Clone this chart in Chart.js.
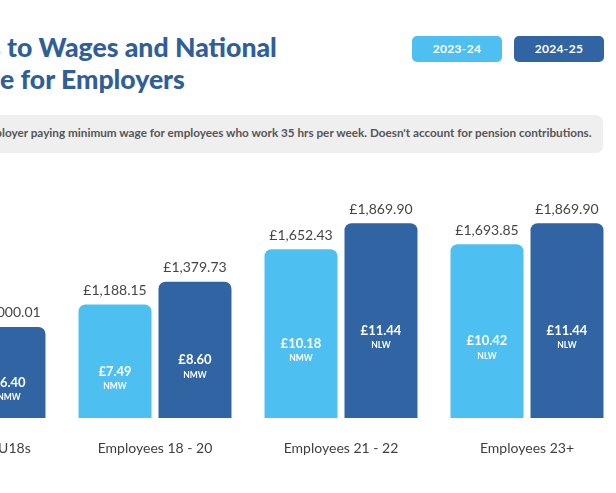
<!DOCTYPE html>
<html>
<head>
<meta charset="utf-8">
<script src="https://cdn.jsdelivr.net/npm/chart.js@4.4.1/dist/chart.umd.min.js"></script>
<style>
  html, body { margin: 0; padding: 0; background: #ffffff; }
  body { width: 616px; height: 493px; overflow: hidden; position: relative; font-family: Lato, "Open Sans", sans-serif; }
  .line { position: absolute; white-space: nowrap; color: #2f5e98; font-weight: 900; }
  #sub { position: absolute; left: -20px; top: 115px; width: 623px; height: 38px; background: #efefef; border-radius: 7px; }
  #subtxt { position: absolute; white-space: nowrap; color: #555555; font-weight: 700; top: 125px; }
  .leg { position: absolute; top: 36px; width: 90px; height: 26px; border-radius: 5px; color: #ffffff; font-weight: 700; font-size: 12px; text-align: center; line-height: 26px; letter-spacing: 0.3px; }
  #wrap { position: absolute; left: -124px; top: 160px; width: 744px; height: 310px; }
</style>
</head>
<body>
<div class="line" id="t1"><span class="pre">Changes </span><span class="vis">to Wages and National</span></div>
<div class="line" id="t2"><span class="pre">Insuranc</span><span class="vis">e for Employers</span></div>
<div class="leg" style="left:412px;background:#4dc0f1;">2023-24</div>
<div class="leg" style="left:514px;background:#3164a2;">2024-25</div>
<div id="sub"></div>
<div id="subtxt"><span class="pre">Cost to emp</span><span class="vis">loyer paying minimum wage for employees who work 35 hrs per week. Doesn't account for pension contributions.</span></div>
<div id="wrap"><canvas id="c"></canvas></div>
<script>
// ---- data ----
const categories = ['Apprentices & U18s', 'Employees 18 - 20', 'Employees 21 - 22', 'Employees 23+'];
const seriesNames = ['2023-24', '2024-25'];
const cost2324 = [806.71, 1188.15, 1652.43, 1693.85];
const cost2425 = [1000.01, 1379.73, 1869.90, 1869.90];
const rate2324 = [5.28, 7.49, 10.18, 10.42];
const rate2425 = [6.40, 8.60, 11.44, 11.44];
const type2324 = ['NMW', 'NMW', 'NMW', 'NLW'];
const type2425 = ['NMW', 'NMW', 'NLW', 'NLW'];

// ---- text fitting for clipped header lines ----
function fit(id, size, targetLeft, targetWidth) {
  const el = document.getElementById(id);
  el.style.fontSize = size + 'px';
  const vis = el.querySelector('.vis');
  const pre = el.querySelector('.pre');
  const w = vis.getBoundingClientRect().width;
  const s = size * targetWidth / w;
  el.style.fontSize = s + 'px';
  el.style.left = (targetLeft - pre.getBoundingClientRect().width) + 'px';
}
function layoutText() {
  fit('t1', 27, 7, 270);
  fit('t2', 27, 0, 185);
  document.getElementById('t1').style.top = '31px';
  document.getElementById('t2').style.top = '63px';
  fit('subtxt', 11, 2, 590);
}
layoutText();
if (document.fonts && document.fonts.ready) document.fonts.ready.then(layoutText);

const fmtMoney = v => '£' + v.toLocaleString('en-GB', { minimumFractionDigits: 2, maximumFractionDigits: 2 });

const labelPlugin = {
  id: 'barLabels',
  afterDatasetsDraw(chart) {
    const ctx = chart.ctx;
    const rates = [rate2324, rate2425];
    const types = [type2324, type2425];
    chart.data.datasets.forEach((ds, di) => {
      const meta = chart.getDatasetMeta(di);
      meta.data.forEach((bar, i) => {
        const x = bar.x, top = bar.y, base = bar.base;
        const mid = (top + base) / 2;
        ctx.save();
        ctx.textAlign = 'center';
        ctx.textBaseline = 'middle';
        ctx.fillStyle = '#454545';
        ctx.font = '14px Lato, "Open Sans", sans-serif';
        ctx.fillText(fmtMoney(ds.data[i]), x, top - 14);
        ctx.fillStyle = '#ffffff';
        ctx.font = 'bold 13px Lato, "Open Sans", sans-serif';
        ctx.fillText('£' + rates[di][i].toFixed(2), x, mid - 4);
        ctx.font = 'bold 8.5px Lato, "Open Sans", sans-serif';
        ctx.fillText(types[di][i], x, mid + 11);
        ctx.restore();
      });
    });
  }
};

new Chart(document.getElementById('c'), {
  type: 'bar',
  data: {
    labels: categories,
    datasets: [
      { label: seriesNames[0], data: cost2324, backgroundColor: '#4dc0f1', borderRadius: 7, borderSkipped: false, categoryPercentage: 0.86, barPercentage: 0.9125 },
      { label: seriesNames[1], data: cost2425, backgroundColor: '#3164a2', borderRadius: 7, borderSkipped: false, categoryPercentage: 0.86, barPercentage: 0.9125 }
    ]
  },
  options: {
    responsive: true,
    maintainAspectRatio: false,
    animation: false,
    layout: { padding: { top: 47.7, left: 0, right: 0, bottom: 0 } },
    plugins: { legend: { display: false }, tooltip: { enabled: false } },
    scales: {
      x: {
        grid: { display: false, drawTicks: false },
        border: { display: false },
        ticks: { color: '#3f3f3f', font: { family: 'Lato, "Open Sans", sans-serif', size: 14 }, padding: 22, maxRotation: 0, autoSkip: false },
        afterFit: s => { s.height = 52; }
      },
      y: { display: false, min: 237, max: 2000 }
    }
  },
  plugins: [labelPlugin]
});
</script>
</body>
</html>
